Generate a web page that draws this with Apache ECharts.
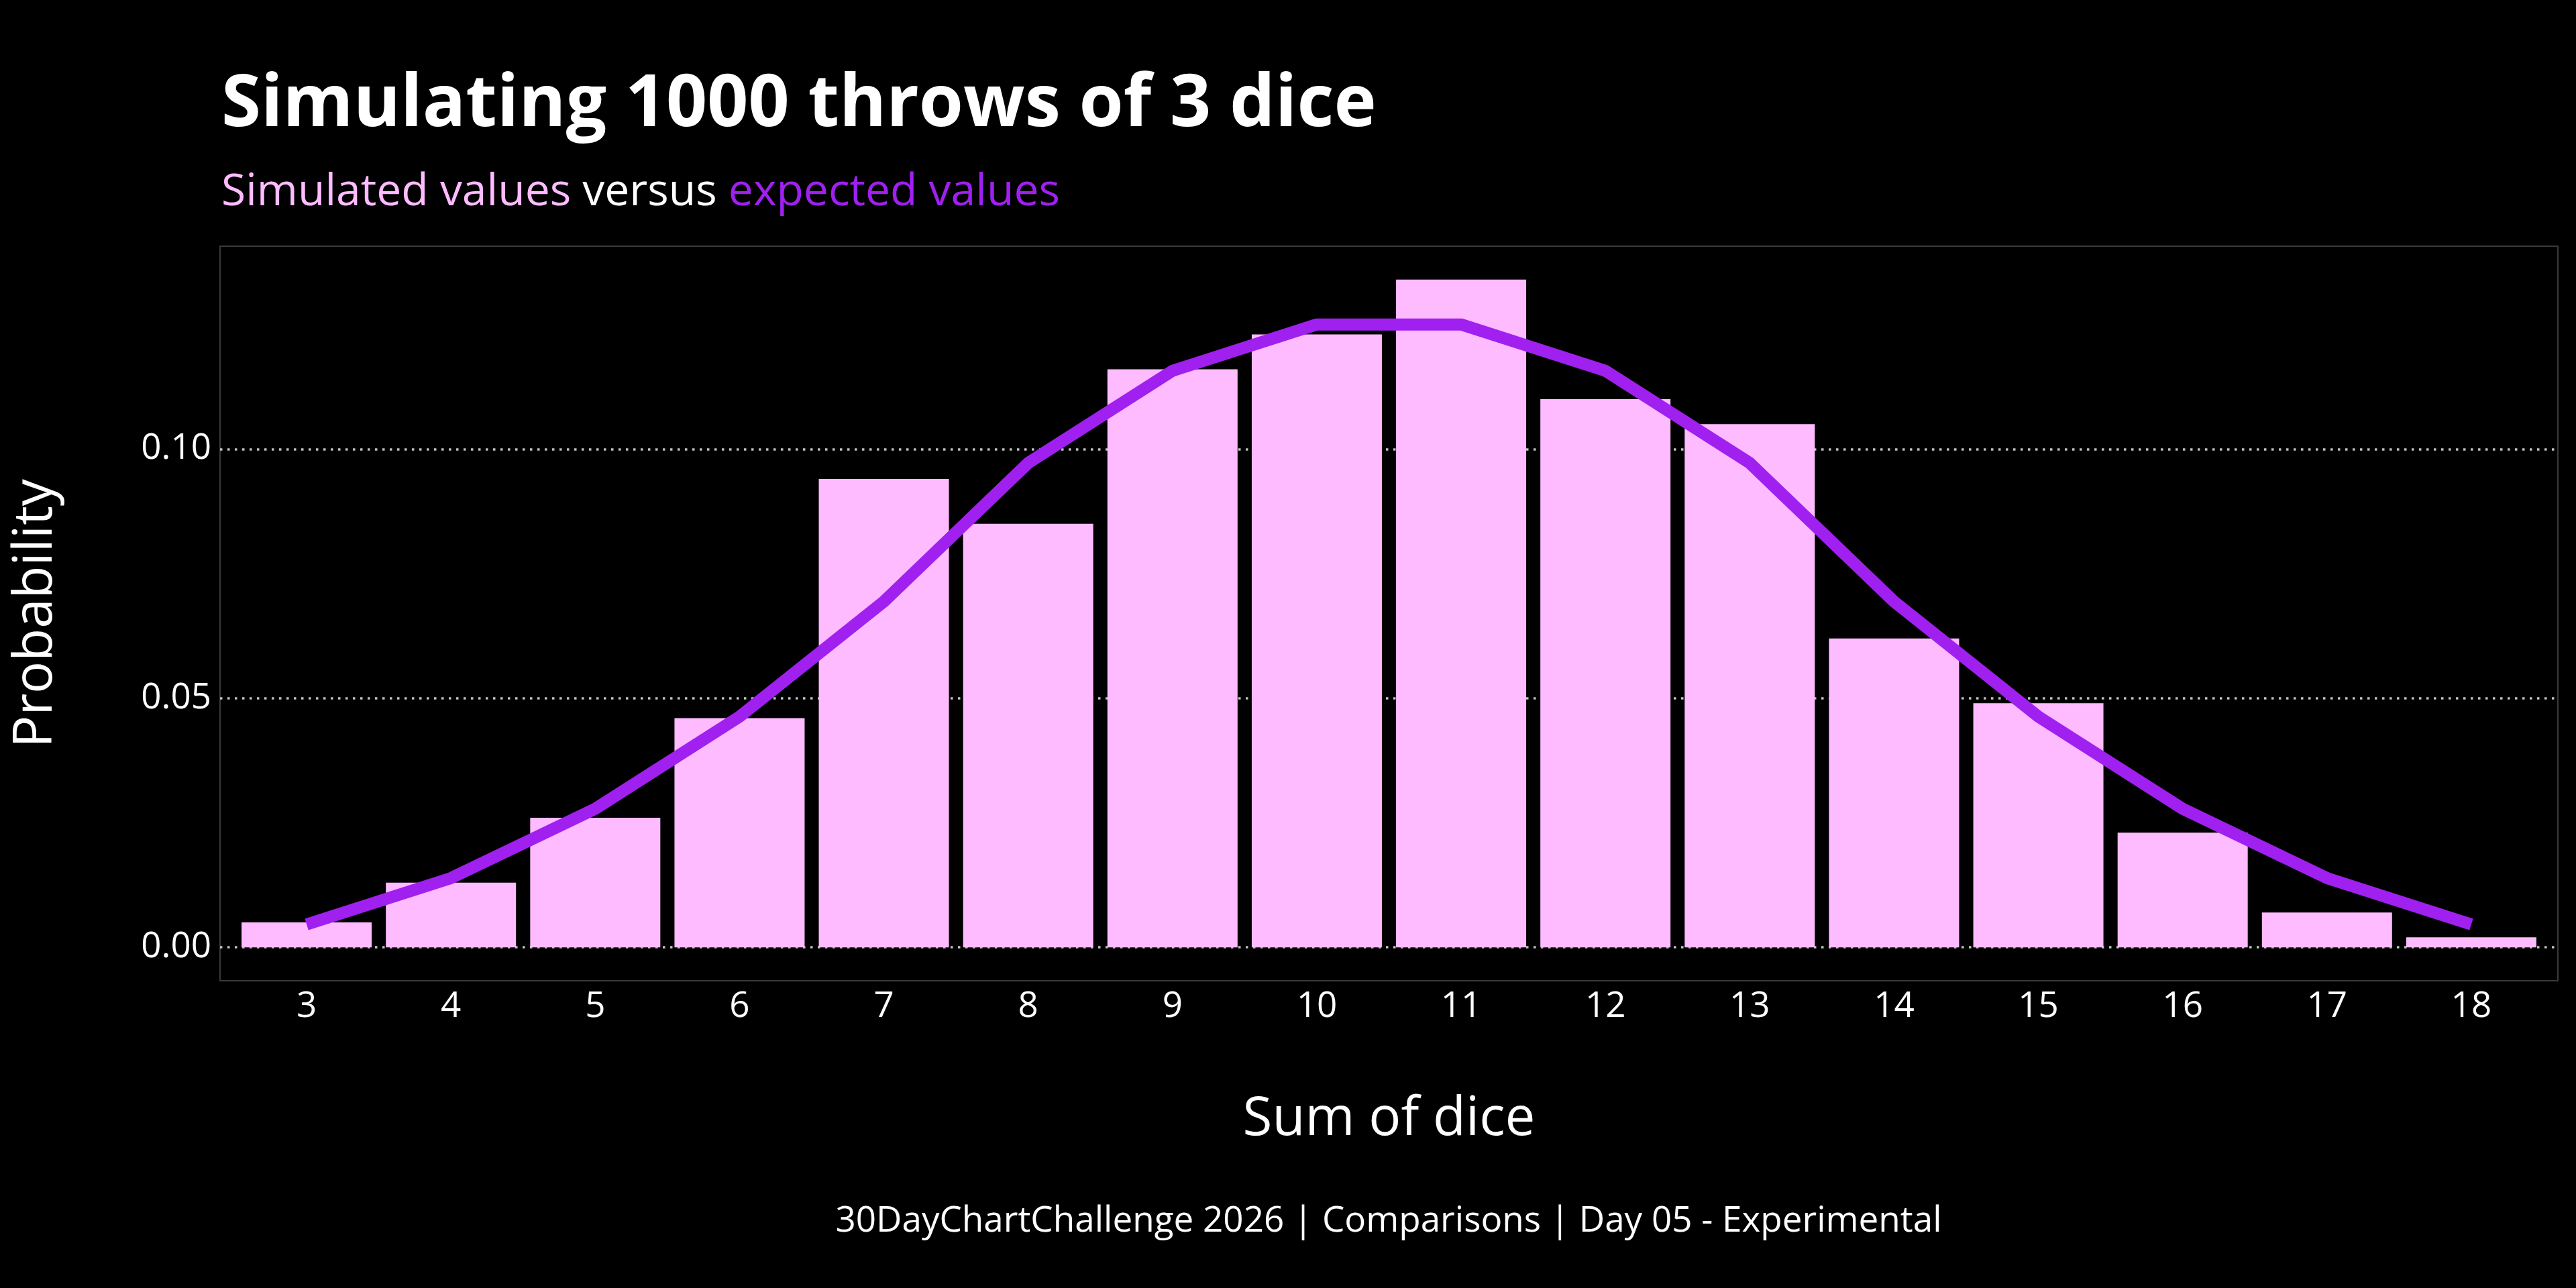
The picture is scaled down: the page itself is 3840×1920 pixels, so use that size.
<!DOCTYPE html>
<html>
<head>
<meta charset="utf-8">
<script src="https://cdn.jsdelivr.net/npm/echarts@6/dist/echarts.min.js"></script>
<style>
  html, body { margin: 0; padding: 0; background: #000; }
  #chart { width: 3840px; height: 1920px; }
</style>
</head>
<body>
<div id="chart"></div>
<script>
// sums of three dice
var sums = [3, 4, 5, 6, 7, 8, 9, 10, 11, 12, 13, 14, 15, 16, 17, 18];
// share of 1000 simulated throws
var simulated = [0.005, 0.013, 0.026, 0.046, 0.094, 0.085, 0.116, 0.123,
                 0.134, 0.110, 0.105, 0.062, 0.049, 0.023, 0.007, 0.002];
// theoretical probability
var expected = [0.0046, 0.0139, 0.0278, 0.0463, 0.0694, 0.0972, 0.1157, 0.1250,
                0.1250, 0.1157, 0.0972, 0.0694, 0.0463, 0.0278, 0.0139, 0.0046];
var yTicks = [0, 0.05, 0.10];

var pink = '#FFBBFF';
var purple = '#A020F0';
var font = 'Open Sans';

var myChart = echarts.init(document.getElementById('chart'));

var option = {
    backgroundColor: '#000',
    textStyle: { fontFamily: font },
    title: [
        {
            text: 'Simulating 1000 throws of 3 dice',
            left: 330, top: 104, padding: 0,
            textStyle: { color: '#fff', fontSize: 107, fontWeight: 'bold', fontFamily: font }
        },
        {
            text: '{a|Simulated values}{b| versus }{c|expected values}',
            left: 330, top: 254, padding: 0,
            textStyle: {
                fontSize: 66, fontFamily: font, fontWeight: 'normal',
                rich: {
                    a: { color: pink, fontSize: 66, fontFamily: font, fontWeight: 'normal' },
                    b: { color: '#fff', fontSize: 66, fontFamily: font, fontWeight: 'normal' },
                    c: { color: purple, fontSize: 66, fontFamily: font, fontWeight: 'normal' }
                }
            }
        },
        {
            text: '30DayChartChallenge 2026 | Comparisons | Day 05 - Experimental',
            left: 2070, textAlign: 'center', top: 1794, padding: 0,
            textStyle: { color: '#fff', fontSize: 53, fontWeight: 'normal', fontFamily: font }
        }
    ],
    grid: {
        left: 328, right: 27, top: 367, bottom: 458,
        show: true, borderColor: '#3a3a3a', borderWidth: 2, backgroundColor: 'transparent'
    },
    xAxis: {
        type: 'value',
        min: 2.4, max: 18.6,
        name: 'Sum of dice',
        nameLocation: 'middle',
        nameGap: 167,
        nameTextStyle: { color: '#fff', fontSize: 80, fontFamily: font },
        axisLine: { show: false },
        axisTick: { show: false, customValues: sums },
        splitLine: { show: false },
        axisLabel: { customValues: sums, color: '#fff', fontSize: 53, margin: 12, fontFamily: font }
    },
    yAxis: {
        type: 'value',
        min: -0.0067, max: 0.1407,
        name: 'Probability',
        nameLocation: 'middle',
        nameGap: 234,
        nameTextStyle: { color: '#fff', fontSize: 80, fontFamily: font },
        axisLine: { show: false },
        axisTick: { show: false, customValues: yTicks },
        axisLabel: {
            customValues: yTicks, color: '#fff', fontSize: 53, margin: 13, fontFamily: font,
            formatter: function (v) { return v.toFixed(2); }
        },
        splitLine: { show: true, lineStyle: { color: '#c0c0c0', width: 3.5, type: [3.5, 7.5] } }
    },
    series: [
        {
            name: 'Simulated',
            type: 'bar',
            barWidth: 194,
            itemStyle: { color: pink },
            data: sums.map(function (s, i) { return [s, simulated[i]]; })
        },
        {
            name: 'Expected',
            type: 'line',
            showSymbol: false,
            symbol: 'none',
            lineStyle: { color: purple, width: 18, cap: 'butt', join: 'round' },
            data: sums.map(function (s, i) { return [s, expected[i]]; })
        }
    ]
};

myChart.setOption(option);
</script>
</body>
</html>
